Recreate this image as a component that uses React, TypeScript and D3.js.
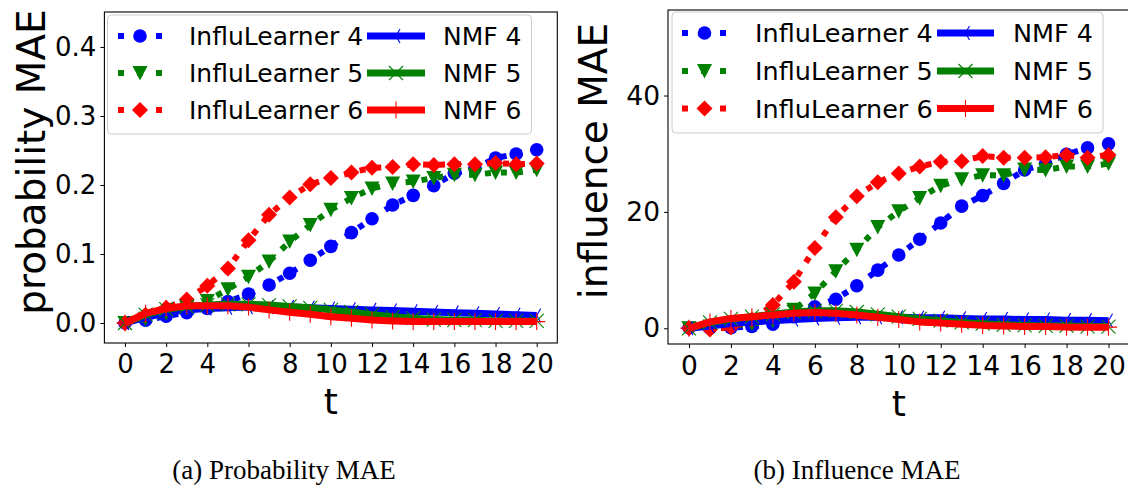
import React, { useEffect, useRef } from "react";
import * as d3 from "d3";

// time steps shared by both panels
const steps = [0, 1, 2, 3, 4, 5, 6, 7, 8, 9, 10, 11, 12, 13, 14, 15, 16, 17, 18, 19, 20];
const xTicks = [0, 2, 4, 6, 8, 10, 12, 14, 16, 18, 20];

const seriesNames = ["InfluLearner 4", "InfluLearner 5", "InfluLearner 6", "NMF 4", "NMF 5", "NMF 6"];
const seriesColors = ["#0000ff", "#008000", "#ff0000", "#0000ff", "#008000", "#ff0000"];
const seriesMarkers = ["circle", "triDown", "diamond", "triLeft", "x", "plus"];

// (a) probability MAE
const probTicks = [0, 0.1, 0.2, 0.3, 0.4];
const probIL4 = [0.0, 0.004, 0.01, 0.015, 0.021, 0.031, 0.042, 0.055, 0.072, 0.091, 0.111, 0.131, 0.151, 0.171, 0.185, 0.199, 0.217, 0.224, 0.239, 0.245, 0.251];
const probIL5 = [0.0, 0.006, 0.014, 0.022, 0.032, 0.049, 0.067, 0.089, 0.118, 0.142, 0.164, 0.181, 0.195, 0.202, 0.205, 0.21, 0.215, 0.215, 0.218, 0.218, 0.222];
const probIL6 = [0.0, 0.012, 0.022, 0.034, 0.054, 0.079, 0.12, 0.157, 0.182, 0.201, 0.21, 0.218, 0.225, 0.226, 0.23, 0.229, 0.23, 0.23, 0.232, 0.23, 0.231];
const probNMF4 = [0.0, 0.008, 0.015, 0.019, 0.021, 0.022, 0.023, 0.023, 0.023, 0.022, 0.021, 0.02, 0.019, 0.018, 0.017, 0.016, 0.015, 0.014, 0.013, 0.012, 0.011];
const probNMF5 = [0.0, 0.012, 0.02, 0.024, 0.026, 0.027, 0.027, 0.026, 0.024, 0.022, 0.019, 0.016, 0.012, 0.009, 0.007, 0.005, 0.004, 0.004, 0.003, 0.003, 0.003];
const probNMF6 = [0.0, 0.014, 0.021, 0.025, 0.025, 0.025, 0.023, 0.019, 0.0155, 0.0126, 0.009, 0.0068, 0.0043, 0.003, 0.002, 0.002, 0.002, 0.002, 0.002, 0.002, 0.002];

// (b) influence MAE
const inflTicks = [0, 20, 40];
const inflIL4 = [0.1, 0.0, 0.1, 0.3, 0.7, 2.0, 3.7, 5.0, 7.3, 10.0, 12.6, 15.3, 18.1, 21.0, 22.8, 24.9, 27.2, 28.3, 29.9, 31.0, 31.7];
const inflIL5 = [0.0, 0.3, 0.5, 0.8, 1.3, 3.2, 6.0, 9.8, 13.5, 17.4, 20.1, 22.4, 24.5, 25.6, 26.3, 26.3, 27.3, 27.2, 27.8, 27.8, 28.3];
const inflIL6 = [0.0, -0.2, 0.2, 1.5, 4.0, 8.0, 13.8, 19.1, 22.7, 25.1, 26.6, 27.8, 28.6, 28.7, 29.6, 29.3, 29.3, 29.4, 29.8, 29.3, 29.8];
const inflNMF4 = [0.0, 0.4, 0.8, 1.1, 1.3, 1.5, 1.7, 1.8, 1.9, 1.9, 1.9, 1.8, 1.8, 1.7, 1.6, 1.6, 1.5, 1.5, 1.4, 1.4, 1.3];
const inflNMF5 = [0.0, 1.0, 1.6, 2.0, 2.4, 2.8, 3.0, 3.0, 2.8, 2.4, 2.0, 1.6, 1.3, 1.0, 0.8, 0.6, 0.5, 0.4, 0.4, 0.3, 0.3];
const inflNMF6 = [0.0, 1.1, 1.7, 2.0, 2.3, 2.6, 2.7, 2.6, 2.3, 1.9, 1.5, 1.1, 0.9, 0.7, 0.5, 0.4, 0.3, 0.3, 0.2, 0.2, 0.2];

const SANS = "DejaVu Sans, sans-serif";
const SERIF = "Liberation Serif, DejaVu Serif, serif";

// draws one marker shape centred at 0,0 inside g
const drawMarker = (g, kind, color) => {
  if (kind === "circle") {
    g.append("circle").attr("r", 6.8).attr("fill", color);
  } else if (kind === "triDown") {
    g.append("path").attr("d", "M-7.5,-7L7.5,-7L0,7.5Z").attr("fill", color);
  } else if (kind === "diamond") {
    g.append("path").attr("d", "M0,-8L8,0L0,8L-8,0Z").attr("fill", color);
  } else {
    let d = "";
    if (kind === "triLeft") d = "M0,0L-8,0M0,0L4,-7M0,0L4,7";
    if (kind === "x") d = "M-7,-7L7,7M-7,7L7,-7";
    if (kind === "plus") d = "M0,-8.5L0,8.5M-8.5,0L8.5,0";
    g.append("path").attr("d", d).attr("fill", "none").attr("stroke", color).attr("stroke-width", 1.1);
  }
};

const drawPanel = (svg, p) => {
  const x = d3.scaleLinear().domain([-1, 21]).range([p.left, p.right]);
  const y = d3.scaleLinear().domain(p.yDomain).range([p.bottom, p.top]);
  const g = svg.append("g");

  const line = d3
    .line()
    .x((d, i) => x(steps[i]))
    .y((d) => y(d));

  // series, InfluLearner first, NMF on top
  p.series.forEach((vals, si) => {
    const color = seriesColors[si];
    const isNMF = si >= 3;
    g.append("path")
      .attr("d", line(vals))
      .attr("fill", "none")
      .attr("stroke", color)
      .attr("stroke-width", isNMF ? 7 : 6)
      .attr("stroke-dasharray", isNMF ? null : "6 10")
      .attr("stroke-linejoin", "round");
    vals.forEach((v, i) => {
      const m = g.append("g").attr("transform", `translate(${x(steps[i])},${y(v)})`);
      drawMarker(m, seriesMarkers[si], color);
    });
  });

  // frame
  g.append("rect")
    .attr("x", p.left)
    .attr("y", p.top)
    .attr("width", p.right - p.left)
    .attr("height", p.bottom - p.top)
    .attr("fill", "none")
    .attr("stroke", "#000")
    .attr("stroke-width", 1.1);

  // x axis
  g.append("g")
    .attr("transform", `translate(0,${p.bottom})`)
    .call(d3.axisBottom(x).tickValues(xTicks).tickSize(4).tickSizeOuter(0).tickPadding(8))
    .call((a) => a.select(".domain").remove())
    .call((a) =>
      a.selectAll("text").style("font-family", SANS).style("font-size", `${p.tickFont}px`).attr("fill", "#000"),
    );

  // y axis
  g.append("g")
    .attr("transform", `translate(${p.left},0)`)
    .call(d3.axisLeft(y).tickValues(p.yTicks).tickFormat(p.yFormat).tickSize(4).tickSizeOuter(0).tickPadding(4))
    .call((a) => a.select(".domain").remove())
    .call((a) =>
      a.selectAll("text").style("font-family", SANS).style("font-size", `${p.tickFont}px`).attr("fill", "#000"),
    );

  // axis labels
  g.append("text")
    .attr("x", x(10))
    .attr("y", p.xLabelY)
    .attr("text-anchor", "middle")
    .style("font-family", SANS)
    .style("font-size", `${p.xLabelFont}px`)
    .text("t");

  g.append("text")
    .attr("transform", `translate(${p.yLabelX},${p.yLabelY}) rotate(-90)`)
    .attr("text-anchor", "middle")
    .style("font-family", SANS)
    .style("font-size", `${p.labelFont}px`)
    .text(p.yLabel);

  // legend
  const L = p.legend;
  g.append("rect")
    .attr("x", L.x)
    .attr("y", L.y)
    .attr("width", L.w)
    .attr("height", L.h)
    .attr("rx", 4)
    .attr("fill", "#fff")
    .attr("fill-opacity", 0.8)
    .attr("stroke", "#cccccc")
    .attr("stroke-width", 1);

  seriesNames.forEach((name, si) => {
    const col = si < 3 ? 0 : 1;
    const row = si % 3;
    const cy = L.rowY[row];
    const [x0, x1] = L.sample[col];
    const isNMF = si >= 3;
    g.append("line")
      .attr("x1", x0)
      .attr("x2", x1)
      .attr("y1", cy)
      .attr("y2", cy)
      .attr("stroke", seriesColors[si])
      .attr("stroke-width", isNMF ? 7 : 6)
      .attr("stroke-dasharray", isNMF ? null : "6 13");
    const m = g.append("g").attr("transform", `translate(${(x0 + x1) / 2},${cy})`);
    drawMarker(m, seriesMarkers[si], seriesColors[si]);
    g.append("text")
      .attr("x", L.textX[col])
      .attr("y", cy)
      .attr("dy", "0.36em")
      .style("font-family", SANS)
      .style("font-size", `${L.font}px`)
      .text(name);
  });

  // caption
  g.append("text")
    .attr("x", p.captionX)
    .attr("y", p.captionY)
    .attr("text-anchor", "middle")
    .style("font-family", SERIF)
    .style("font-size", `${p.captionFont}px`)
    .text(p.caption);
};

const App = () => {
  const svgRef = useRef(null);

  useEffect(() => {
    const svg = d3.select(svgRef.current);
    svg.selectAll("*").remove();

    drawPanel(svg, {
      left: 104.4,
      right: 557.3,
      top: 12,
      bottom: 343,
      yDomain: [-0.029, 0.4507],
      yTicks: probTicks,
      yFormat: d3.format(".1f"),
      yLabel: "probability MAE",
      yLabelX: 45,
      yLabelY: 162,
      xLabelY: 414,
      xLabelFont: 36,
      series: [probIL4, probIL5, probIL6, probNMF4, probNMF5, probNMF6],
      tickFont: 26,
      labelFont: 39,
      legend: {
        x: 107.5,
        y: 15,
        w: 424,
        h: 119,
        rowY: [36, 73, 110],
        sample: [
          [118, 162],
          [367, 425],
        ],
        textX: [189, 443],
        font: 25,
      },
      caption: "(a) Probability MAE",
      captionX: 284,
      captionY: 479,
      captionFont: 27,
    });

    drawPanel(svg, {
      left: 668,
      right: 1129.5,
      top: 10,
      bottom: 344,
      yDomain: [-2.7, 54.7],
      yTicks: inflTicks,
      yFormat: d3.format("d"),
      yLabel: "influence MAE",
      yLabelX: 607,
      yLabelY: 161,
      xLabelY: 416,
      xLabelFont: 36,
      series: [inflIL4, inflIL5, inflIL6, inflNMF4, inflNMF5, inflNMF6],
      tickFont: 26.5,
      labelFont: 39,
      legend: {
        x: 672,
        y: 12,
        w: 431,
        h: 121,
        rowY: [33, 71, 108.5],
        sample: [
          [682, 727],
          [937, 994],
        ],
        textX: [755, 1013],
        font: 25.5,
      },
      caption: "(b) Influence MAE",
      captionX: 857,
      captionY: 479,
      captionFont: 27,
    });
  }, []);

  return (
    <svg
      ref={svgRef}
      width={1128}
      height={489}
      style={{ position: "absolute", left: 0, top: 0, background: "#fff" }}
    />
  );
};

export default App;
